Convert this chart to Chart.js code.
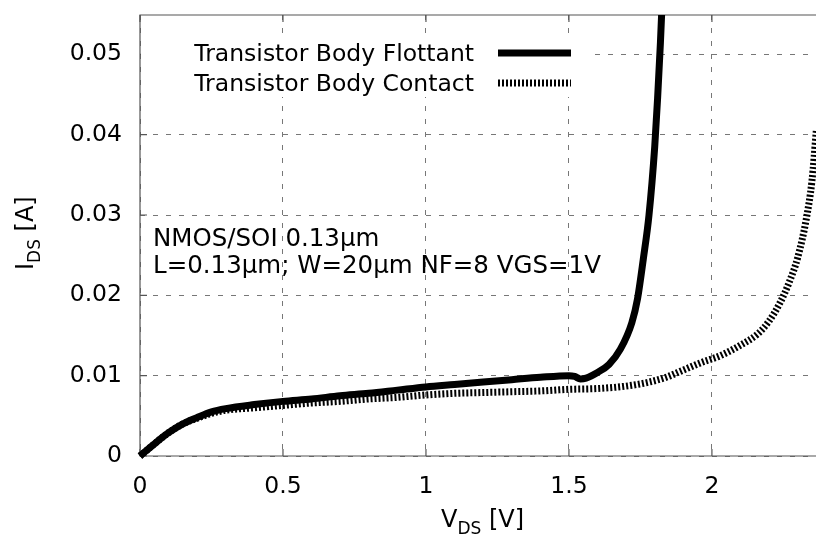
<!DOCTYPE html>
<html lang="en">
<head>
    <meta charset="UTF-8">
    <title>IDS vs VDS</title>
    <script src="https://cdn.jsdelivr.net/npm/chart.js"></script>
    <style>
        body {
            margin: 0;
            background-color: #ffffff;
        }
        #wrap {
            width: 816px;
            height: 537px;
            position: relative;
        }
    </style>
</head>
<body>
    <div id="wrap"><canvas id="ivChart"></canvas></div>

    <script>
        // V_DS / I_DS
        const vdsFlottant = [0, 0.05, 0.1, 0.15, 0.2, 0.25, 0.3, 0.4, 0.5, 0.6, 0.7, 0.8, 0.9, 1.0, 1.1, 1.2, 1.3, 1.4, 1.5, 1.52, 1.54, 1.56, 1.6, 1.64, 1.68, 1.72, 1.74, 1.76, 1.78, 1.8, 1.81, 1.82, 1.83];
        const idsFlottant = [0, 0.0015, 0.0029, 0.0040, 0.0048, 0.0055, 0.0059, 0.0064, 0.0068, 0.0071, 0.0075, 0.0078, 0.0082, 0.0086, 0.0089, 0.0092, 0.0095, 0.0098, 0.0100, 0.0099, 0.0096, 0.0097, 0.0104, 0.0114, 0.0133, 0.0166, 0.0196, 0.0245, 0.0300, 0.0385, 0.0445, 0.0515, 0.0600];

        const vdsContact = [0, 0.05, 0.1, 0.15, 0.2, 0.25, 0.3, 0.4, 0.5, 0.6, 0.7, 0.8, 0.9, 1.0, 1.1, 1.2, 1.3, 1.4, 1.5, 1.6, 1.7, 1.78, 1.84, 1.9, 1.96, 2.03, 2.1, 2.16, 2.2, 2.24, 2.27, 2.3, 2.33, 2.35, 2.365, 2.38];
        const idsContact = [0, 0.0015, 0.0029, 0.0040, 0.0047, 0.0053, 0.0057, 0.0060, 0.0063, 0.0066, 0.0068, 0.0071, 0.0073, 0.0076, 0.0078, 0.0079, 0.0080, 0.0081, 0.0083, 0.0084, 0.0087, 0.0092, 0.0098, 0.0107, 0.0116, 0.0125, 0.0138, 0.0152, 0.0168, 0.0192, 0.0216, 0.0247, 0.0295, 0.0343, 0.0405, 0.0470];

        const xTickValues = [0, 0.5, 1, 1.5, 2];
        const yTickValues = [0, 0.01, 0.02, 0.03, 0.04, 0.05];
        const xMax = 2.364;
        const yMax = 0.0549;

        const seriesNames = ['Transistor Body Flottant', 'Transistor Body Contact'];
        const noteLines = ['NMOS/SOI 0.13\u00b5m', 'L=0.13\u00b5m; W=20\u00b5m NF=8 VGS=1V'];

        const FONT = "'DejaVu Sans', sans-serif";

        function toPoints(xs, ys) {
            return xs.map((x, i) => ({ x: x, y: ys[i] }));
        }

        // frame, tick marks, legend, note and axis titles (gnuplot look)
        const chrome = {
            id: 'chrome',
            beforeDatasetsDraw(chart) {
                const ctx = chart.ctx;
                const a = chart.chartArea;
                const xs = chart.scales.x, ys = chart.scales.y;
                ctx.save();
                ctx.strokeStyle = '#555';
                ctx.lineWidth = 1.2;
                ctx.beginPath();
                ctx.moveTo(a.right + 2, a.top);
                ctx.lineTo(a.left, a.top);
                ctx.lineTo(a.left, a.bottom);
                ctx.lineTo(a.right + 2, a.bottom);
                ctx.stroke();
                ctx.beginPath();
                yTickValues.forEach(v => {
                    const py = ys.getPixelForValue(v);
                    ctx.moveTo(a.left, py);
                    ctx.lineTo(a.left + 7, py);
                });
                xTickValues.forEach(v => {
                    const px = xs.getPixelForValue(v);
                    ctx.moveTo(px, a.bottom);
                    ctx.lineTo(px, a.bottom - 7);
                    ctx.moveTo(px, a.top);
                    ctx.lineTo(px, a.top + 7);
                });
                ctx.stroke();
                ctx.restore();
            },
            afterDraw(chart) {
                const ctx = chart.ctx;
                ctx.save();

                // legend
                ctx.fillStyle = '#ffffff';
                ctx.fillRect(141, 38, 446, 59);
                ctx.fillStyle = '#000';
                ctx.font = '23.5px ' + FONT;
                ctx.textAlign = 'right';
                ctx.textBaseline = 'alphabetic';
                const rows = [53, 83];
                seriesNames.forEach((name, i) => {
                    ctx.fillText(name, 474, rows[i] + 8);
                    const ds = chart.data.datasets[i];
                    ctx.beginPath();
                    ctx.strokeStyle = ds.borderColor;
                    ctx.lineWidth = ds.borderWidth;
                    ctx.lineCap = 'butt';
                    ctx.setLineDash(ds.borderDash || []);
                    ctx.moveTo(498, rows[i]);
                    ctx.lineTo(571, rows[i]);
                    ctx.stroke();
                    ctx.setLineDash([]);
                });

                // note
                ctx.textAlign = 'left';
                ctx.font = '24.5px ' + FONT;
                ctx.fillText(noteLines[0], 153, 246);
                ctx.fillText(noteLines[1], 153, 273);

                // x title
                let x = 441;
                ctx.font = '24px ' + FONT;
                ctx.fillText('V', x, 527);
                x += ctx.measureText('V').width;
                ctx.font = '17px ' + FONT;
                ctx.fillText('DS', x, 534);
                x += ctx.measureText('DS').width;
                ctx.font = '24px ' + FONT;
                ctx.fillText(' [V]', x, 527);

                // y title
                ctx.translate(33, 270);
                ctx.rotate(-Math.PI / 2);
                x = 0;
                ctx.fillText('I', x, 0);
                x += ctx.measureText('I').width;
                ctx.font = '17px ' + FONT;
                ctx.fillText('DS', x, 7);
                x += ctx.measureText('DS').width;
                ctx.font = '24px ' + FONT;
                ctx.fillText(' [A]', x, 0);

                ctx.restore();
            }
        };

        const ctx = document.getElementById('ivChart').getContext('2d');
        const ivChart = new Chart(ctx, {
            type: 'scatter',
            data: {
                datasets: [{
                    label: seriesNames[0],
                    data: toPoints(vdsFlottant, idsFlottant),
                    showLine: true,
                    borderColor: '#000',
                    borderWidth: 7,
                    pointRadius: 0,
                    cubicInterpolationMode: 'monotone',
                    clip: { left: 4, bottom: 4, top: 0, right: 0 }
                }, {
                    label: seriesNames[1],
                    data: toPoints(vdsContact, idsContact),
                    showLine: true,
                    borderColor: '#000',
                    borderWidth: 7,
                    borderDash: [2, 2],
                    borderCapStyle: 'butt',
                    pointRadius: 0,
                    cubicInterpolationMode: 'monotone',
                    clip: { left: 4, bottom: 4, top: 0, right: 0 }
                }]
            },
            options: {
                responsive: true,
                maintainAspectRatio: false,
                animation: false,
                layout: { padding: { top: 15, right: 0, left: 0, bottom: 0 } },
                plugins: {
                    legend: { display: false },
                    tooltip: { enabled: false }
                },
                scales: {
                    x: {
                        type: 'linear',
                        min: 0,
                        max: xMax,
                        afterFit: s => {
                            s.height = 81;
                            s.paddingLeft = 0;
                            s.paddingRight = 0;
                        },
                        afterBuildTicks: s => { s.ticks = xTickValues.map(v => ({ value: v })); },
                        grid: { color: '#777', lineWidth: 1, drawTicks: false },
                        border: { display: false, dash: [5, 8] },
                        ticks: {
                            color: '#000',
                            padding: 17,
                            maxRotation: 0,
                            font: { family: FONT, size: 23.5 },
                            callback: v => String(v)
                        }
                    },
                    y: {
                        type: 'linear',
                        min: 0,
                        max: yMax,
                        afterFit: s => {
                            s.width = 140;
                            s.paddingTop = 0;
                            s.paddingBottom = 0;
                        },
                        afterBuildTicks: s => { s.ticks = yTickValues.map(v => ({ value: v })); },
                        grid: { color: '#777', lineWidth: 1, drawTicks: false },
                        border: { display: false, dash: [5, 8] },
                        ticks: {
                            color: '#000',
                            padding: 18,
                            font: { family: FONT, size: 23.5 },
                            callback: v => (v === 0 ? '0' : v.toFixed(2))
                        }
                    }
                }
            },
            plugins: [chrome]
        });
    </script>
</body>
</html>
